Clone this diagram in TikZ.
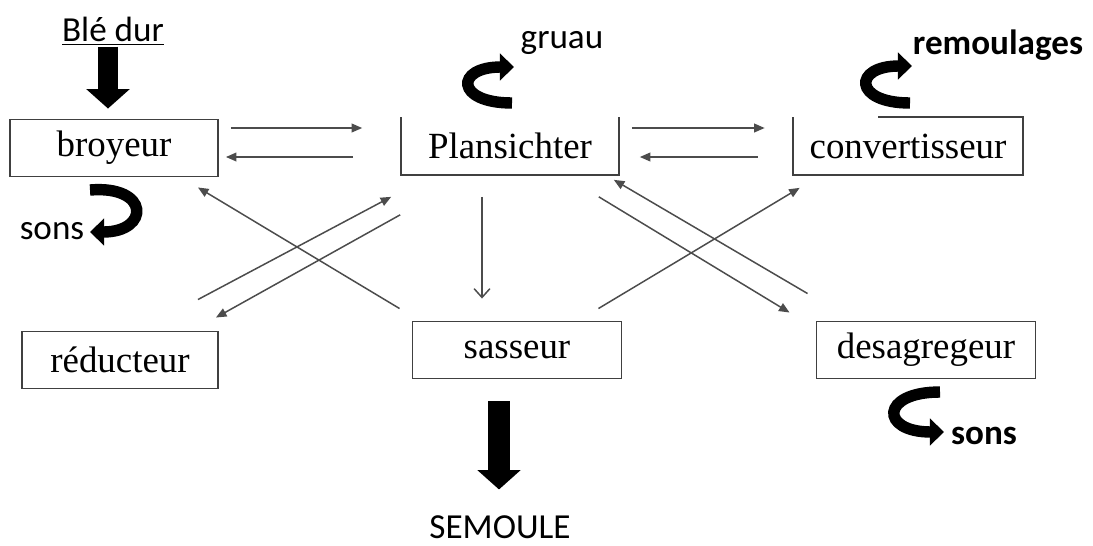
\documentclass[tikz,border=0pt]{standalone}
\usepackage{fontspec}
\setmainfont{Liberation Serif}
\newfontfamily\labelfont{Carlito}
\usetikzlibrary{arrows.meta,calc}
\tikzset {
  >=Stealth,
  boxtext/.style={minimum height=1.14cm, inner sep=0pt, font=\fontsize{21}{24}\selectfont},
  box/.style={boxtext, draw=black!75, line width=1.1pt},
  edge/.style={line width=1.1pt, black!75},
  flow/.style={line width=0.85pt, black!70, -{Triangle[length=6pt,width=5pt]}},
  tag/.style={font=\labelfont\fontsize{20}{24}\selectfont, inner sep=0pt},
  curl/.style={line width=6.5pt, -{Triangle[length=8pt,width=15pt]}},
  bigarrow/.style={-{Triangle[length=11pt,width=24pt]}},
}
\begin{document}
\begin{tikzpicture}[x=0.02cm,y=-0.02cm]
  \useasboundingbox (0,0) rectangle (1093,545);

  % machines
  \node[box,minimum width=4.16cm] (broy) at (114,148) {broyeur};
  \node[boxtext,minimum width=4.34cm] (plan) at (510,146) {Plansichter};
  \node[boxtext,minimum width=4.6cm] (conv) at (908,146) {convertisseur};
  \node[box,minimum width=3.92cm] (red) at (120,360) {réducteur};
  \node[box,minimum width=4.18cm] (sass) at (517,350) {sasseur};
  \node[box,minimum width=4.38cm] (desa) at (926,350) {desagregeur};

  \draw[edge] (plan.north west) |- (plan.south east) -- (plan.north east);
  \draw[edge] (conv.north west) -- (conv.south west) -- (conv.south east)
    -- (conv.north east) -- ($(conv.north west)+(85,0)$);

  % products
  \node[tag] (ble) at (113,31) {\underline{Blé dur}};
  \node[tag] (gruau) at (562,43) {gruau};
  \node[tag,font=\labelfont\bfseries\fontsize{20}{24}\selectfont] (remoul) at (998,45) {remoulages};
  \node[tag] (sonsA) at (52,231) {sons};
  \node[tag,font=\labelfont\bfseries\fontsize{20}{24}\selectfont] (sonsB) at (984,436) {sons};
  \node[tag] (sem) at (500,527) {SEMOULE};

  \draw[bigarrow,line width=11pt] ($(broy.north)+(-6,-72)$) -- ($(broy.north)+(-6,-10)$);
  \draw[bigarrow,line width=12.5pt] ($(sass.south)+(-18,22)$) -- ($(sass.south)+(-18,110)$);

  \draw[curl] (512,103) .. controls (455,103) and (455,67) .. (514,67);
  \draw[curl] (910,103) .. controls (853,103) and (853,66) .. (912,66);
  \draw[curl] (90,190) .. controls (150,185) and (150,232) .. (90,232);
  \draw[curl] (940,392) .. controls (880,392) and (880,432) .. (944,432);

  % circuit
  \draw[flow] ($(broy.east)+(12,-20)$) -- ($(plan.west)+(-39,-18)$);
  \draw[flow] ($(plan.west)+(-48,11)$) -- ($(broy.east)+(7,9)$);
  \draw[flow] ($(plan.east)+(13,-18)$) -- ($(conv.west)+(-28,-18)$);
  \draw[flow] ($(conv.west)+(-35,11)$) -- ($(plan.east)+(21,11)$);
  \draw[line width=0.85pt,black!70,-{Straight Barb[length=5pt,width=9pt]}]
    ($(plan.south)+(-28,22)$) -- ($(sass.north)+(-35,-22)$);

  \draw[flow] ($(sass.north west)+(-12,-12)$) -- ($(broy.south east)+(-21,10)$);
  \draw[flow] ($(red.north east)+(-21,-31)$) -- ($(plan.south west)+(-10,22)$);
  \draw[flow] ($(plan.south west)+(-1,40)$) -- ($(red.north east)+(-3,-13)$);
  \draw[flow] ($(desa.north west)+(-8,-27)$) -- ($(plan.south east)+(-5,5)$);
  \draw[flow] ($(plan.south east)+(-20,22)$) -- ($(desa.north west)+(-26,-8)$);
  \draw[flow] ($(sass.north east)+(-24,-12)$) -- ($(conv.south west)+(7,13)$);
\end{tikzpicture}
\end{document}
